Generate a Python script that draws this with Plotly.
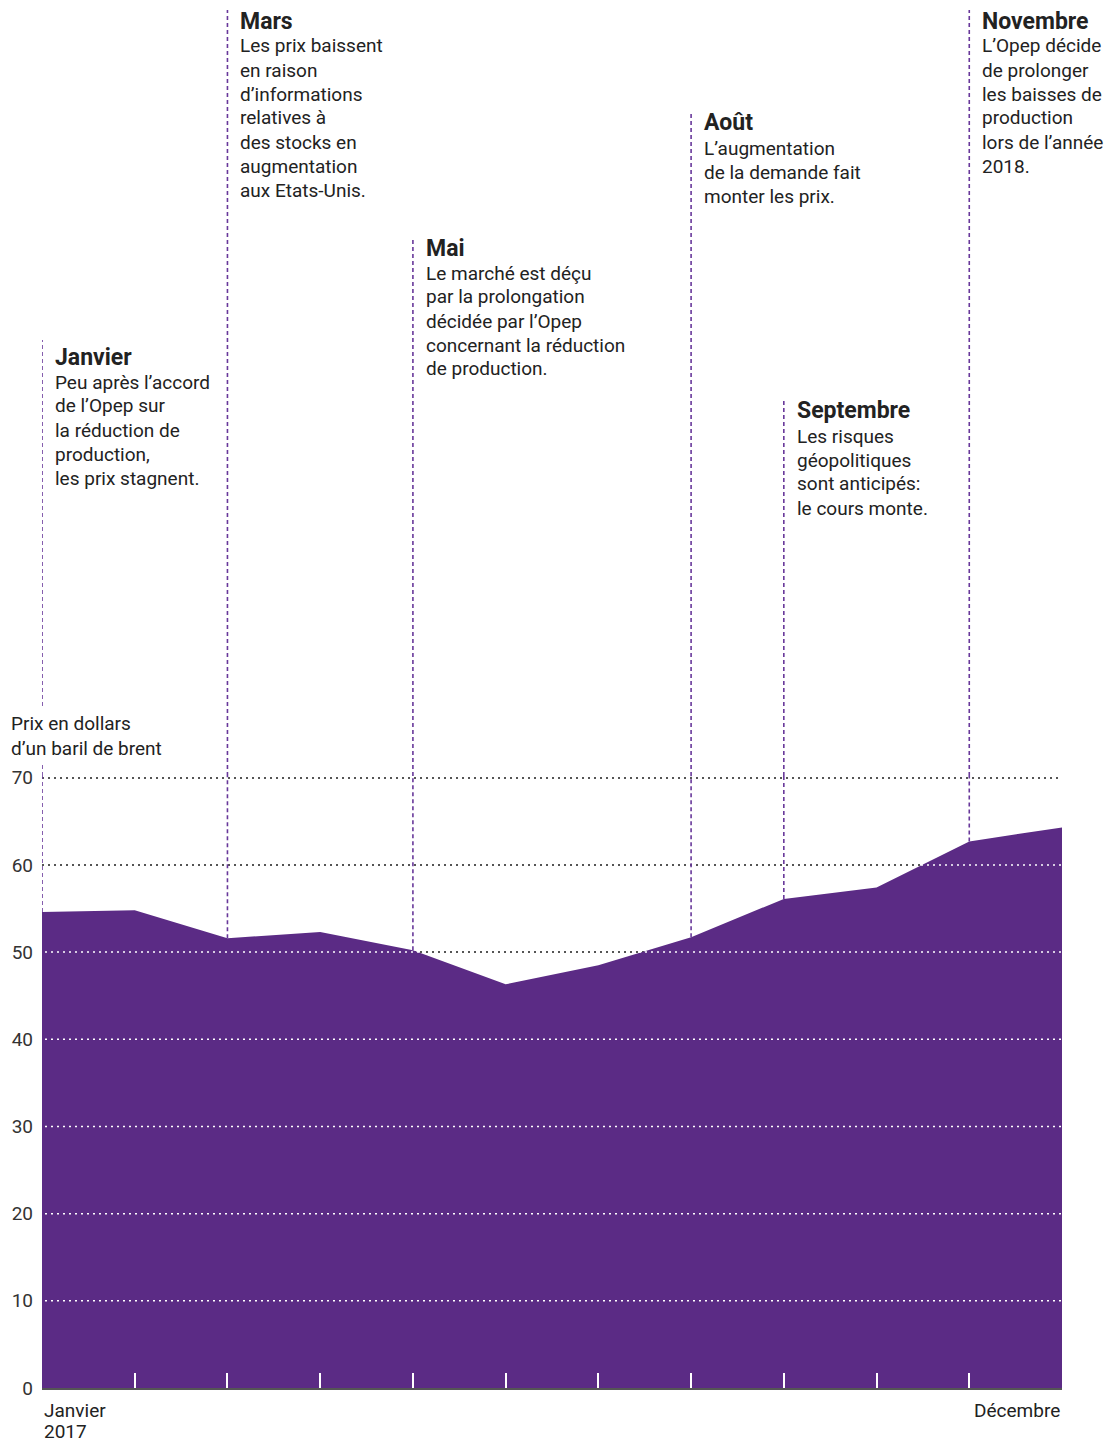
import plotly.graph_objects as go

# --- data -------------------------------------------------------------
months = ["Janvier", "Février", "Mars", "Avril", "Mai", "Juin", "Juillet",
          "Août", "Septembre", "Octobre", "Novembre", "Décembre"]
brent_price = [54.6, 54.8, 51.6, 52.3, 50.2, 46.3, 48.5, 51.7, 56.1, 57.4, 62.7, 64.3]
y_ticks = [0, 10, 20, 30, 40, 50, 60, 70]
y_top = 70.2  # a little headroom so the 70 grid line is drawn

event_months = ["Janvier", "Mars", "Mai", "Août", "Septembre", "Novembre"]
event_titles = ["Janvier", "Mars", "Mai", "Août", "Septembre", "Novembre"]
event_texts = [
    ["Peu après l’accord", "de l’Opep sur", "la réduction de", "production,",
     "les prix stagnent."],
    ["Les prix baissent", "en raison", "d’informations", "relatives à",
     "des stocks en", "augmentation", "aux Etats-Unis."],
    ["Le marché est déçu", "par la prolongation", "décidée par l’Opep",
     "concernant la réduction", "de production."],
    ["L’augmentation", "de la demande fait", "monter les prix."],
    ["Les risques", "géopolitiques", "sont anticipés:", "le cours monte."],
    ["L’Opep décide", "de prolonger", "les baisses de", "production",
     "lors de l’année", "2018."],
]

# --- layout constants (pixels) ---------------------------------------
W, H = 1111, 1443
ML, MR, MT, MB = 42, 49, 776, 55
PLOT_H = H - MT - MB
# top of each leader line and centre of each title, in page pixels
event_line_top = [340, 10, 237, 113, 398, 10]
event_title_mid = [357, 21, 248, 123, 411, 21]

PURPLE = "rgb(91,43,133)"
LEADER = "rgb(104,56,154)"
TEXT = "#222222"
GRID = "#555555"
FONT = "Roboto"
BODY_SIZE = 19
TITLE_SIZE = 23
LINE_H = 24


def py(pix):
    """Page pixel row -> paper coordinate."""
    return (H - MB - pix) / PLOT_H


x_idx = list(range(len(months)))

fig = go.Figure()

# price area
fig.add_trace(go.Scatter(
    x=x_idx, y=brent_price, mode="lines", fill="tozeroy",
    fillcolor=PURPLE, line=dict(color=PURPLE, width=0),
    hoverinfo="skip", showlegend=False,
))

# white dotted grid over the area (offset so it sits between the grey dots)
for v in y_ticks[1:-1]:
    fig.add_trace(go.Scatter(
        x=[x_idx[0], x_idx[-1]], y=[v, v], mode="lines",
        line=dict(color="white", width=1.5, dash="0px,3px,2px,1px"),
        hoverinfo="skip", showlegend=False,
    ))

shapes = []
annotations = []


def label(x, xref, y_pix, text, size, xanchor="left", xshift=0, **kw):
    annotations.append(dict(
        x=x, xref=xref, xshift=xshift, xanchor=xanchor,
        y=py(y_pix), yref="paper", yanchor="middle",
        text=text, showarrow=False, align=xanchor,
        font=dict(family=FONT, size=size, color=TEXT), **kw,
    ))


for m, title, lines, top, tmid in zip(event_months, event_titles, event_texts,
                                      event_line_top, event_title_mid):
    i = months.index(m)
    # leader line: from the price point up to the axis top, then above the plot
    shapes.append(dict(type="line", xref="x", yref="y",
                       x0=i, x1=i, y0=brent_price[i], y1=y_top,
                       line=dict(color=LEADER, width=1.6, dash="4px,3px")))
    shapes.append(dict(type="line", xref="x", yref="paper",
                       x0=i, x1=i, y0=1, y1=py(top),
                       line=dict(color=LEADER, width=1.6, dash="4px,3px")))
    label(i, "x", tmid, "<b>" + title + "</b>", TITLE_SIZE, xshift=11)
    for k, line in enumerate(lines):
        label(i, "x", tmid + 25 + k * LINE_H, line, BODY_SIZE, xshift=11)

# axis title (white box masks the leader line behind it)
label((6 - ML) / (W - ML - MR), "paper", 736,
      "Prix en dollars<br>d’un baril de brent", BODY_SIZE,
      bgcolor="white", borderpad=4)
# x end labels
label(x_idx[0], "x", 1410, months[0], BODY_SIZE)
label(x_idx[0], "x", 1431, "2017", BODY_SIZE)
label(x_idx[-1], "x", 1410, months[-1], BODY_SIZE, xanchor="right")

fig.update_layout(
    width=W, height=H,
    margin=dict(l=ML, r=MR, t=MT, b=MB, pad=0),
    paper_bgcolor="white", plot_bgcolor="white",
    showlegend=False,
    font=dict(family=FONT, size=BODY_SIZE, color=TEXT),
    shapes=shapes, annotations=annotations,
    xaxis=dict(
        range=[x_idx[0], x_idx[-1]], tickvals=x_idx[1:-1],
        ticktext=[""] * (len(x_idx) - 2), showticklabels=False,
        ticks="inside", ticklen=15, tickwidth=2, tickcolor="white",
        showgrid=False, zeroline=False,
        showline=True, linecolor=GRID, linewidth=2,
        layer="above traces", fixedrange=True,
    ),
    yaxis=dict(
        range=[y_ticks[0], y_top], tickvals=y_ticks,
        ticks="", ticklabelstandoff=8,
        tickfont=dict(family=FONT, size=BODY_SIZE, color="#333333"),
        showgrid=True, gridcolor=GRID, gridwidth=1.5, griddash="2px,4px",
        zeroline=False, showline=False, fixedrange=True,
    ),
    hovermode=False,
)

fig.write_html("out.html")
